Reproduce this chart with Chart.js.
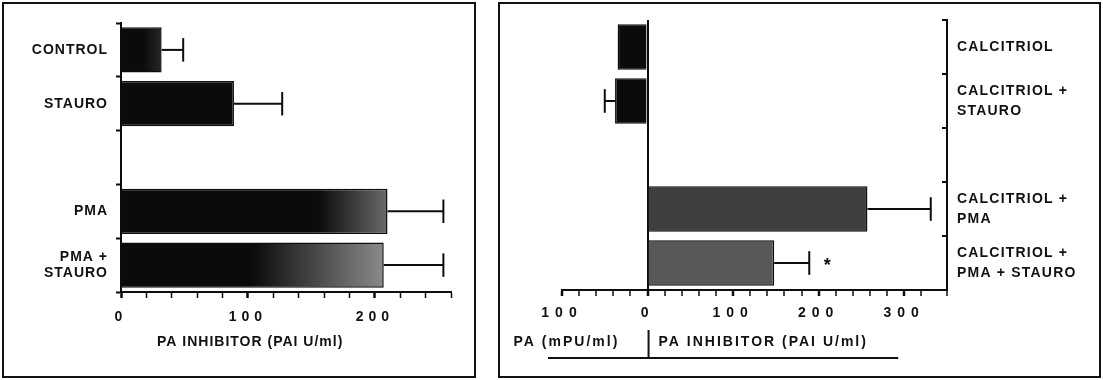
<!DOCTYPE html>
<html><head><meta charset="utf-8">
<script src="https://cdn.jsdelivr.net/npm/chart.js@4.4.1/dist/chart.umd.min.js"></script>
<style>
html,body{margin:0;padding:0;background:#fff;width:1103px;height:380px;overflow:hidden}
.frame{position:absolute;border:2px solid #111;box-sizing:border-box}
#c1{position:absolute;left:0;top:0}
#c2{position:absolute;left:488px;top:0}
</style></head><body>
<div class="frame" style="left:2px;top:2px;width:474px;height:376px"></div>
<div class="frame" style="left:498px;top:2px;width:603px;height:376px"></div>
<canvas id="c1" width="488" height="380"></canvas>
<canvas id="c2" width="615" height="380"></canvas>
<script>
// ---------- data ----------
const categoriesLeft = ['CONTROL', 'STAURO', '', 'PMA', ['PMA +', 'STAURO']];
const paiLeft = [32, 89, null, 210, 207];          // PAI U/ml
const errLeft = [17, 38, null, 44, 47];            // error bar length
const tickLabelsLeft = [0, 100, 200];

const categoriesRight = ['CALCITRIOL', ['CALCITRIOL +', 'STAURO'], '', ['CALCITRIOL +', 'PMA'], ['CALCITRIOL +', 'PMA + STAURO']];
const valuesRight = [-35, -38, null, 257, 148];     // negative = PA (mPU/ml), positive = PAI U/ml
const errRight = [0, 12, null, 74, 41];
const sigRight = ['', '', '', '', '*'];
const tickLabelsRight = [-100, 0, 100, 200, 300];

// ---------- styles ----------
const FONT = '"Liberation Sans", Arial, Helvetica, sans-serif';
Chart.defaults.font.family = FONT;
Chart.defaults.color = '#111';
const INK = '#0d0d0d';
const shadeLeft = [[0.55, '#262626'], [1, '#0b0b0b'], null, [0.74, '#6a6a6a'], [0.5, '#8a8a8a']];
const fillRight = ['#0b0b0b', '#0b0b0b', null, '#3e3e3e', '#585858'];

function leftFill(ctx) {
  const chart = ctx.chart, i = ctx.dataIndex, s = shadeLeft[i];
  const xs = chart.scales && chart.scales.x;
  const v = paiLeft[i];
  if (!s || !xs || v == null) return INK;
  const x0 = xs.getPixelForValue(0), x1 = xs.getPixelForValue(v);
  if (!isFinite(x0) || !isFinite(x1) || x1 <= x0) return INK;
  const g = chart.ctx.createLinearGradient(x0, 0, x1, 0);
  g.addColorStop(0, '#0b0b0b'); g.addColorStop(s[0], '#0b0b0b'); g.addColorStop(1, s[1]);
  return g;
}

// letter spacing for scale labels
const spacingPatch = {
  id: 'spacingPatch',
  afterLayout(chart, args, opts) {
    Object.values(chart.scales).forEach(s => {
      const sp = (opts.spacing || {})[s.id];
      if (sp == null || s._spPatched) return;
      const orig = s.drawLabels;
      s.drawLabels = function (area) {
        const c = this.ctx; c.save(); c.letterSpacing = sp + 'px'; orig.call(this, area); c.restore();
      };
      s._spPatched = true;
    });
  }
};

// error bars + significance marks
const errorBars = {
  id: 'errorBars',
  afterDatasetsDraw(chart, args, opts) {
    const c = chart.ctx, xs = chart.scales.x, meta = chart.getDatasetMeta(0);
    const vals = chart.data.datasets[0].data;
    c.save();
    c.strokeStyle = INK; c.lineWidth = 2;
    meta.data.forEach((bar, i) => {
      const v = vals[i], e = opts.err[i];
      if (v == null) return;
      const dir = v < 0 ? -1 : 1;
      const xa = xs.getPixelForValue(v), xb = xs.getPixelForValue(v + dir * (e || 0));
      const y = bar.y, h = bar.height * 0.26;
      if (e) {
        c.beginPath(); c.moveTo(xa, y); c.lineTo(xb, y); c.stroke();
        c.beginPath(); c.moveTo(xb, y - h); c.lineTo(xb, y + h); c.stroke();
      }
      const m = opts.marks && opts.marks[i];
      if (m) {
        c.fillStyle = INK; c.font = 'bold 18px ' + FONT; c.textAlign = 'center'; c.textBaseline = 'middle';
        c.fillText(m, xb + 18, y + 3);
      }
    });
    c.restore();
  }
};

// axis captions
const captions = {
  id: 'captions',
  afterDraw(chart, args, opts) {
    const c = chart.ctx, xs = chart.scales.x;
    c.save();
    c.fillStyle = '#111'; c.textBaseline = 'middle'; c.textAlign = 'left';
    (opts.items || []).forEach(it => {
      c.font = 'bold ' + it.size + 'px ' + FONT;
      c.letterSpacing = it.spacing + 'px';
      const x = it.atValue != null ? xs.getPixelForValue(it.atValue) + it.dx : it.x;
      c.fillText(it.text, x, it.y);
    });
    c.letterSpacing = '0px';
    c.strokeStyle = '#111'; c.lineWidth = 2;
    (opts.rules || []).forEach(r => {
      c.beginPath();
      c.moveTo(xs.getPixelForValue(r.x0) + (r.dx0 || 0), r.y0);
      c.lineTo(xs.getPixelForValue(r.x1) + (r.dx1 || 0), r.y1);
      c.stroke();
    });
    c.restore();
  }
};

// inward ticks for the right-hand category axis
const innerTicks = {
  id: 'innerTicks',
  afterDraw(chart, args, opts) {
    if (!opts.enabled) return;
    const c = chart.ctx, ys = chart.scales.y, n = chart.data.labels.length;
    c.save(); c.strokeStyle = INK; c.lineWidth = 2;
    for (let i = 0; i <= n; i++) {
      const y = ys.getPixelForValue(i - 0.5);
      c.beginPath(); c.moveTo(ys.left - 5, y); c.lineTo(ys.left, y); c.stroke();
    }
    c.restore();
  }
};

const tickFont = { size: 14, weight: 'bold' };
const fixY = w => s => { s.width = w; s.paddingTop = 0; s.paddingBottom = 0; };

// ---------- left chart ----------
new Chart(document.getElementById('c1'), {
  type: 'bar',
  data: {
    labels: categoriesLeft,
    datasets: [{
      data: paiLeft,
      backgroundColor: leftFill,
      borderColor: INK, borderWidth: 1.5, borderSkipped: 'start',
      barPercentage: 0.84, categoryPercentage: 1
    }]
  },
  options: {
    indexAxis: 'y', responsive: false, animation: false,
    layout: { padding: { left: 0, top: 23, right: 37, bottom: 38 } },
    plugins: {
      legend: { display: false }, tooltip: { enabled: false },
      spacingPatch: { spacing: { x: 5, y: 1 } },
      errorBars: { err: errLeft },
      captions: { items: [{ text: 'PA INHIBITOR (PAI U/ml)', x: 157, y: 342, size: 14, spacing: 1 }] }
    },
    scales: {
      y: {
        type: 'category', offset: true,
        afterFit: fixY(121),
        grid: { offset: true, drawOnChartArea: false, tickLength: 5, tickColor: INK, tickWidth: 2 },
        border: { display: true, color: INK, width: 2 },
        ticks: { font: { size: 14, weight: 'bold', lineHeight: 1.1 }, padding: 8, color: '#111', autoSkip: false }
      },
      x: {
        type: 'linear', min: 0, max: 260,
        afterFit: s => { s.height = 50; },
        grid: { drawOnChartArea: false, tickLength: 6, tickColor: INK, tickWidth: c => (c.tick && c.tick.value % 100 === 0 ? 2.5 : 1.5) },
        border: { display: true, color: INK, width: 2 },
        ticks: {
          stepSize: 20, autoSkip: false, maxRotation: 0, font: tickFont, padding: 11, color: '#111',
          callback: v => (tickLabelsLeft.includes(v) ? String(v) : '')
        }
      }
    }
  },
  plugins: [spacingPatch, errorBars, captions]
});

// ---------- right chart ----------
new Chart(document.getElementById('c2'), {
  type: 'bar',
  data: {
    labels: categoriesRight,
    datasets: [{
      data: valuesRight,
      backgroundColor: fillRight,
      borderColor: INK, borderWidth: 1.5, borderSkipped: 'start',
      barPercentage: 0.84, categoryPercentage: 1
    }]
  },
  options: {
    indexAxis: 'y', responsive: false, animation: false,
    layout: { padding: { left: 74, top: 20, right: 0, bottom: 40 } },
    plugins: {
      legend: { display: false }, tooltip: { enabled: false },
      spacingPatch: { spacing: { x: 6, y: 1.2 } },
      errorBars: { err: errRight, marks: sigRight },
      innerTicks: { enabled: true },
      captions: {
        items: [
          { text: 'PA (mPU/ml)', atValue: 0, dx: -134, y: 342, size: 14, spacing: 2 },
          { text: 'PA INHIBITOR (PAI U/ml)', atValue: 0, dx: 11, y: 342, size: 14, spacing: 2 }
        ],
        rules: [
          { x0: 0, x1: 0, dx0: 1, dx1: 1, y0: 330, y1: 358 },
          { x0: -100, x1: 300, dx0: -14, dx1: -6, y0: 358, y1: 358 }
        ]
      }
    },
    scales: {
      y: {
        type: 'category', offset: true, position: 'right',
        afterFit: fixY(156),
        grid: { offset: true, drawOnChartArea: false, drawTicks: false },
        border: { display: true, color: INK, width: 2 },
        ticks: { font: { size: 14, weight: 'bold', lineHeight: 1.45 }, padding: 10, color: '#111', autoSkip: false }
      },
      x: {
        type: 'linear', min: -100, max: 350,
        afterFit: s => { s.height = 50; },
        grid: {
          drawOnChartArea: true, tickLength: 6, tickColor: INK,
          color: c => (c.tick && c.tick.value === 0 ? INK : 'rgba(0,0,0,0)'),
          lineWidth: 2,
          tickWidth: c => (c.tick && c.tick.value % 100 === 0 ? 2.5 : 1.5)
        },
        border: { display: true, color: INK, width: 2 },
        ticks: {
          stepSize: 20, autoSkip: false, maxRotation: 0, font: tickFont, padding: 9, color: '#111',
          callback: v => (tickLabelsRight.includes(v) ? String(Math.abs(v)) : '')
        }
      }
    }
  },
  plugins: [spacingPatch, errorBars, captions, innerTicks]
});
</script>
</body></html>
